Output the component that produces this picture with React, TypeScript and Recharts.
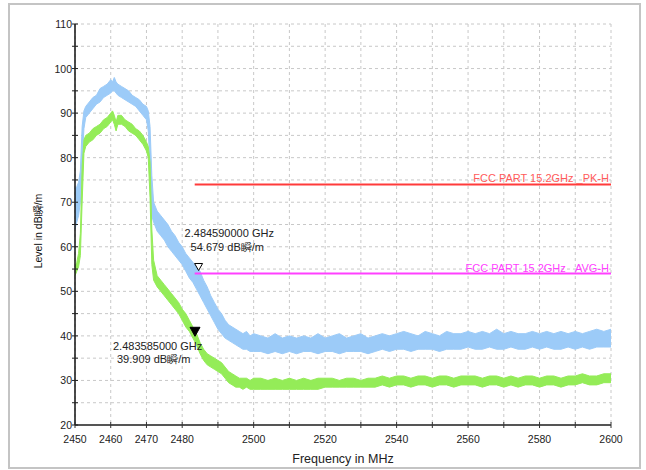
import { ComposedChart, Area, XAxis, YAxis, CartesianGrid, ReferenceLine, ReferenceDot, Label } from 'recharts'

// frequency points, MHz
const freq = [
	2450, 2450.5, 2451, 2451.5, 2452, 2452.5, 2453, 2454, 2455, 2456, 2457, 2458, 2459, 2460, 2460.5,
	2461, 2461.5, 2462, 2463, 2464, 2465, 2466, 2467, 2468, 2469, 2470, 2470.5, 2471, 2471.5, 2472,
	2473, 2474, 2475, 2476, 2477, 2478, 2479, 2480, 2481, 2482, 2483, 2484, 2485, 2486, 2487,
	2488, 2489, 2490, 2491, 2492, 2493, 2494, 2495, 2496, 2497, 2498, 2499, 2500,
	2502, 2504, 2506, 2508, 2510, 2512, 2514, 2516, 2518, 2520,
	2522, 2524, 2526, 2528, 2530, 2532, 2534, 2536, 2538, 2540,
	2542, 2544, 2546, 2548, 2550, 2552, 2554, 2556, 2558, 2560,
	2562, 2564, 2566, 2568, 2570, 2572, 2574, 2576, 2578, 2580,
	2582, 2584, 2586, 2588, 2590, 2592, 2594, 2596, 2598, 2600,
]

// peak trace (blue), upper / lower edge of the noise band
const peakHi = [
	73, 73.5, 74.5, 77, 87, 90.5, 91.5, 92.5, 93.5, 94, 95.5, 96, 96.5, 97.5, 97,
	98, 97, 96.5, 96, 95.5, 95, 94, 93.5, 93, 92, 91.5, 90.5, 87, 76, 70,
	68, 67, 66, 65, 63.5, 62.5, 61, 60, 58.5, 57.5, 56.5, 55.5, 54.5, 52.5, 51,
	49, 47.5, 46, 45, 43.5, 42.5, 42, 41.5, 41, 40.5, 41, 40, 40.5,
	40, 39.5, 40.5, 39.5, 40, 39.5, 40, 39.5, 40.5, 39.5,
	40, 40.5, 39.5, 40, 40.5, 39.5, 40, 40.5, 40, 40.5,
	41, 40.5, 40, 41, 40.5, 40, 41, 40.5, 40.5, 41,
	40.5, 41, 40.5, 41.5, 40.5, 41, 40.5, 40.5, 41, 40.5,
	41, 40.5, 41, 40.5, 41, 40.5, 41, 41.5, 41, 41.5,
]
const peakLo = [
	64, 65.5, 67, 70, 79, 86.5, 89, 90, 91, 92, 92.5, 93.5, 94, 94.5, 95,
	95, 94.5, 94, 93.5, 93, 92.5, 92, 91.5, 90.5, 89.5, 88.5, 86, 78, 67, 65.5,
	63.5, 62.5, 61.5, 60, 59, 58, 57, 56, 54.5, 53, 52, 50.5, 49, 47.5, 46,
	44.5, 43, 41.5, 40.5, 39.5, 39, 38.5, 38, 37.5, 37, 37, 36.5, 36.5,
	36.5, 36, 36.5, 36, 36.5, 36, 36.5, 36.5, 36, 36.5,
	36.5, 36, 36.5, 36.5, 36.5, 36, 36.5, 37, 36.5, 37,
	37, 36.5, 37, 37, 37, 36.5, 37, 37, 37, 37.5,
	37, 37, 37.5, 37, 37, 37.5, 37, 37, 37.5, 37,
	37.5, 37, 37, 37.5, 37, 37.5, 37, 37.5, 37.5, 37.5,
]

// average trace (green)
const avgHi = [
	55.5, 56.5, 58.5, 63, 78, 84, 85, 85.5, 86.5, 87, 87.5, 88.5, 89, 90, 90.5,
	89.5, 88, 89.5, 89.5, 88.5, 88, 87.5, 86.5, 86, 85, 83.5, 82.5, 79, 64, 57,
	53.5, 52.5, 51.5, 50.5, 49.5, 48.5, 47.5, 46, 45, 43.5, 42, 40.5, 38.5, 37, 36,
	35.5, 35, 34.5, 34, 33, 32, 31.5, 31, 30.5, 30.5, 30.5, 30, 30.5,
	30.5, 30, 30.5, 30, 30.5, 30, 30.5, 30, 30.5, 30.5,
	30.5, 30, 30.5, 30.5, 30, 30.5, 30.5, 31, 30.5, 31,
	31, 30.5, 31, 31, 30.5, 31, 31, 30.5, 31, 31,
	31, 30.5, 31, 31, 30.5, 31, 30.5, 31, 31, 30.5,
	31, 31, 30.5, 31, 31, 31.5, 31, 31, 31.5, 31.5,
]
const avgLo = [
	53.5, 54.5, 55.5, 58, 70, 81, 82.5, 83.5, 84, 85, 85.5, 86.5, 87, 88, 88.5,
	87.5, 86, 87.5, 87.5, 87, 86, 85.5, 85, 84, 83, 81.5, 80, 71, 56, 52.5,
	51, 50, 49, 48, 47, 46, 45, 43.5, 42, 41, 39.5, 38, 36, 34.5, 33.5,
	33, 32.5, 32, 31.5, 30.5, 29.5, 29, 28.5, 28.5, 28, 28.5, 28, 28,
	28, 28, 28, 28, 28, 28, 28, 28, 28, 28.5,
	28.5, 28.5, 28.5, 28.5, 28.5, 28.5, 28.5, 29, 28.5, 29,
	29, 28.5, 29, 29, 28.5, 29, 29, 28.5, 29, 29,
	29, 28.5, 29, 29, 28.5, 29, 28.5, 29, 29, 28.5,
	29, 29, 28.5, 29, 29, 29.5, 29, 29, 29.5, 29.5,
]

const xTicks = [2450, 2460, 2470, 2480, 2490, 2500, 2510, 2520, 2530, 2540, 2550, 2560, 2570, 2580, 2590, 2600]
const xLabels = [2450, 2460, 2470, 2480, 2500, 2520, 2540, 2560, 2580, 2600]
const yTicks = [20, 25, 30, 35, 40, 45, 50, 55, 60, 65, 70, 75, 80, 85, 90, 95, 100, 105, 110]
const yLabels = [20, 30, 40, 50, 60, 70, 80, 90, 100, 110]

const limitStart = 2483.5
const limitPk = 74
const limitAvg = 54
const markerFreq = [2484.59, 2483.585]
const markerLevel = [54.679, 39.909]

const unit = 'dB瞬/m'
const font = '"Liberation Sans", Arial, sans-serif'

const data = freq.map((f, i) => ({
	f,
	peak: [peakLo[i], peakHi[i]],
	avg: [avgLo[i], avgHi[i]],
}))

const XTick = (props: any) => {
	const { x, y, payload } = props
	return (
		<g>
			<line x1={x} x2={x} y1={y - 6} y2={y} stroke="#333" />
			{xLabels.includes(payload.value) && (
				<text x={x} y={y + 15} textAnchor="middle" fontSize={10.5} fill="#222" fontFamily={font}>
					{payload.value}
				</text>
			)}
		</g>
	)
}

const YTick = (props: any) => {
	const { x, y, payload } = props
	return (
		<g>
			<line x1={x} x2={x + 6} y1={y} y2={y} stroke="#222" />
			{yLabels.includes(payload.value) && (
				<text x={x} y={y + 4} textAnchor="end" fontSize={10.5} fill="#222" fontFamily={font}>
					{payload.value}
				</text>
			)}
		</g>
	)
}

const fmtFreq = (f: number) => `${(f / 1000).toFixed(9)} GHz`

const HollowMarker = (props: any) => {
	const { cx, cy } = props
	return (
		<g fontFamily={font} fontSize={11} fill="#222">
			<path d={`M${cx},${cy} L${cx - 4},${cy - 7} L${cx + 4},${cy - 7} Z`} fill="#fff" stroke="#000" />
			<text x={cx - 14} y={cy - 33}>{fmtFreq(markerFreq[0])}</text>
			<text x={cx - 8} y={cy - 19.5}>{`${markerLevel[0].toFixed(3)} ${unit}`}</text>
		</g>
	)
}

const FilledMarker = (props: any) => {
	const { cx, cy } = props
	return (
		<g fontFamily={font} fontSize={11} fill="#222">
			<path d={`M${cx},${cy} L${cx - 5},${cy - 9} L${cx + 5},${cy - 9} Z`} fill="#000" stroke="#000" />
			<text x={cx - 82} y={cy + 14}>{fmtFreq(markerFreq[1])}</text>
			<text x={cx - 78} y={cy + 27}>{`${markerLevel[1].toFixed(3)} ${unit}`}</text>
		</g>
	)
}

export default function App() {
	return (
		<div style={{ position: 'absolute', left: 0, top: 0, width: 646, height: 470, background: '#fff' }}>
			<div
				style={{
					position: 'absolute',
					left: 8,
					top: 3,
					width: 629,
					height: 462,
					border: '2px solid #c4c4c4',
				}}
			/>
			<div style={{ position: 'absolute', left: 0, top: 0 }}>
				<ComposedChart
					width={646}
					height={470}
					data={data}
					margin={{ top: 24, right: 35, bottom: 3, left: 25 }}
				>
					<CartesianGrid stroke="#c8c8c8" strokeDasharray="3 3" />
					<XAxis
						dataKey="f"
						type="number"
						domain={[2450, 2600]}
						ticks={xTicks}
						interval={0}
						height={42}
						tickSize={3}
						tickMargin={0}
						tickLine={false}
						tick={<XTick />}
						axisLine={{ stroke: '#555', strokeWidth: 2 }}
					>
						<Label
							content={() => (
								<text x={343} y={463} textAnchor="middle" fontSize={12.5} fill="#222" fontFamily={font}>
									Frequency in MHz
								</text>
							)}
						/>
					</XAxis>
					<YAxis
						type="number"
						domain={[20, 110]}
						ticks={yTicks}
						interval={0}
						width={50}
						tickSize={3}
						tickMargin={0}
						tickLine={false}
						tick={<YTick />}
						axisLine={{ stroke: '#111', strokeWidth: 1.5 }}
					>
						<Label
							content={() => (
								<text
									x={0}
									y={0}
									transform="translate(42,231) rotate(-90)"
									textAnchor="middle"
									fontSize={10.5}
									fill="#111"
									fontFamily={font}
								>
									{`Level in ${unit}`}
								</text>
							)}
						/>
					</YAxis>
					<Area
						type="linear"
						dataKey="peak"
						stroke="#9ccbf8"
						strokeWidth={1}
						fill="#9ccbf8"
						fillOpacity={1}
						dot={false}
						activeDot={false}
						isAnimationActive={false}
					/>
					<Area
						type="linear"
						dataKey="avg"
						stroke="#94ec58"
						strokeWidth={1}
						fill="#94ec58"
						fillOpacity={1}
						dot={false}
						activeDot={false}
						isAnimationActive={false}
					/>
					<ReferenceLine
						segment={[{ x: limitStart, y: limitPk }, { x: 2600, y: limitPk }]}
						stroke="#ff3b3b"
						strokeWidth={2}
					>
						<Label
							value="FCC PART 15.2GHz _PK-H"
							position="insideBottomRight"
							offset={2}
							fontSize={11}
							fill="#ff5a5a"
							fontFamily={font}
						/>
					</ReferenceLine>
					<ReferenceLine
						segment={[{ x: limitStart, y: limitAvg }, { x: 2600, y: limitAvg }]}
						stroke="#ff40ff"
						strokeWidth={2}
					>
						<Label
							value="FCC PART 15.2GHz _AVG-H"
							position="insideBottomRight"
							offset={2}
							fontSize={11}
							fill="#ff40ff"
							fontFamily={font}
						/>
					</ReferenceLine>
					<ReferenceDot x={markerFreq[0]} y={markerLevel[0]} r={4} shape={<HollowMarker />} />
					<ReferenceDot x={markerFreq[1]} y={markerLevel[1]} r={4} shape={<FilledMarker />} />
				</ComposedChart>
			</div>
		</div>
	)
}
